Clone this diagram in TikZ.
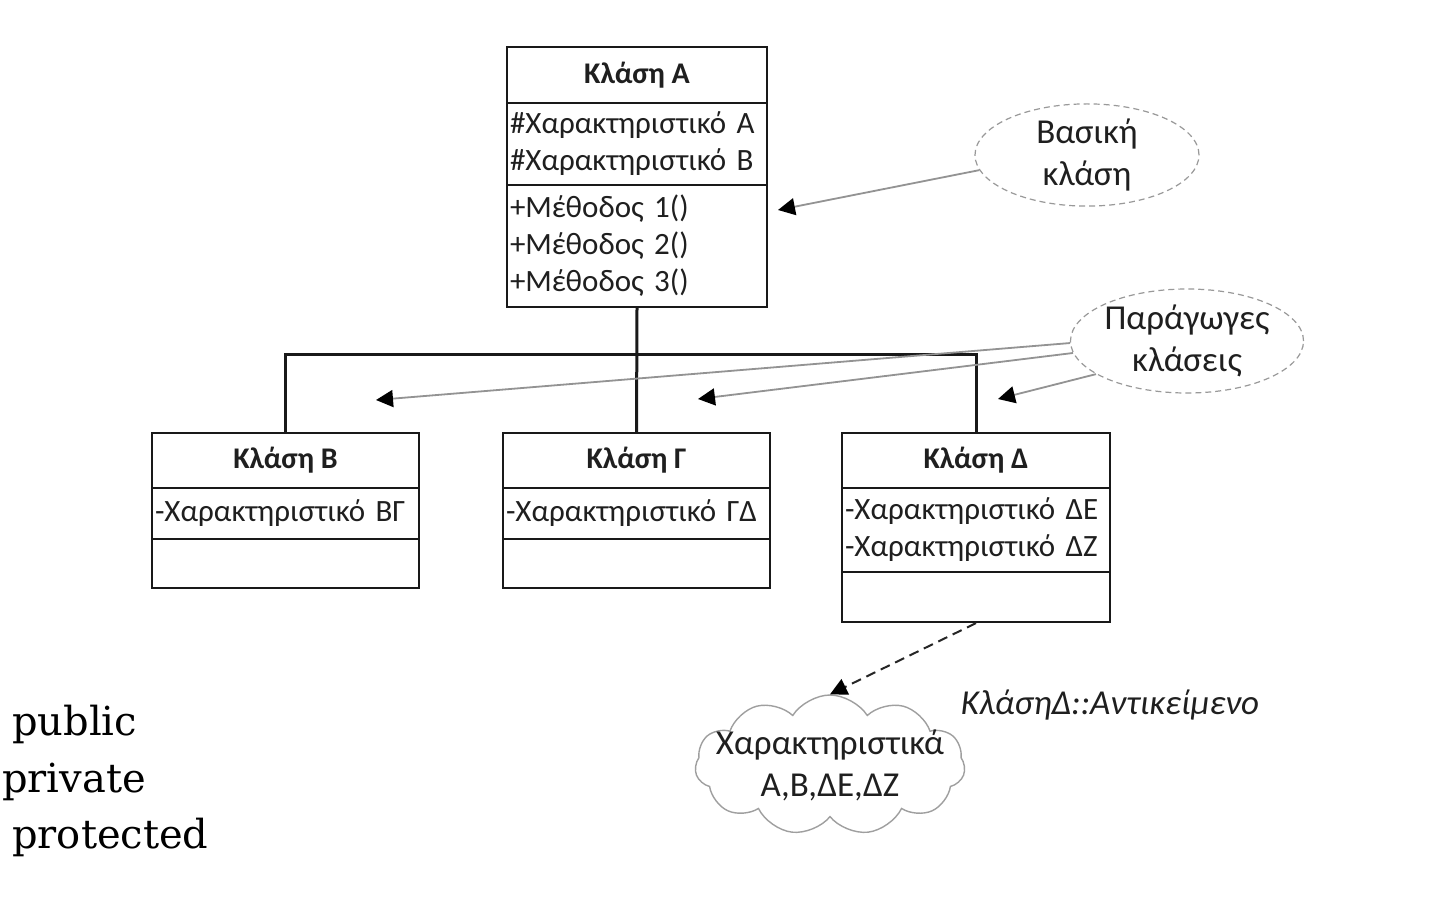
\documentclass[tikz,border=0pt]{standalone}
\usepackage{fontspec}
\setmainfont{Carlito}
\newfontfamily\leftserif{DejaVu Serif}
\usetikzlibrary{arrows.meta,shapes.geometric,shapes.symbols}
\tikzset{
  txt/.style={font=\fontsize{31}{37}\selectfont, text=black!88},
  big/.style={font=\fontsize{35}{42}\selectfont, text=black!88},
  hdr/.style={txt, draw=black!90, line width=2.2pt, inner sep=0pt, font=\bfseries\fontsize{30}{37}\selectfont},
  cmp/.style={txt, draw=black!90, line width=2.2pt, align=left, inner sep=3pt},
  inh/.style={draw=black!90, line width=3pt},
  note/.style={ellipse, draw=gray!80, line width=1.2pt, dash pattern=on 6pt off 4pt, big, align=center, inner sep=0pt},
  tip/.style={-{Triangle[length=17pt,width=17pt,black]}},
  ptr/.style={draw=gray!85, line width=1.8pt, tip},
  legend/.style={anchor=base west, inner sep=0pt, font=\leftserif\fontsize{40}{48}\selectfont},
}
\begin{document}
\begin{tikzpicture}[x=1pt,y=-1pt]
\fill[white] (0,0) rectangle (1456,919);
\useasboundingbox (0,0) rectangle (1456,919);

% Class A
\node[hdr, minimum width=260pt, minimum height=56pt] (Ah) at (637,75) {Κλάση Α};
\node[cmp, minimum width=260pt, text width=254pt, minimum height=82pt] (Aa) at (637,144) {\#Χαρακτηριστικό Α\\\#Χαρακτηριστικό Β};
\node[cmp, minimum width=260pt, text width=254pt, minimum height=122pt] (Am) at (637,246) {+Μέθοδος 1()\\+Μέθοδος 2()\\+Μέθοδος 3()};

% Class B
\node[hdr, minimum width=267pt, minimum height=55pt] (Bh) at (285.5,460.5) {Κλάση Β};
\node[cmp, minimum width=267pt, text width=261pt, minimum height=51pt] (Ba) at (285.5,513.5) {-Χαρακτηριστικό ΒΓ};
\node[cmp, minimum width=267pt, text width=261pt, minimum height=49pt] (Bm) at (285.5,563.5) {};

% Class Gamma
\node[hdr, minimum width=267pt, minimum height=55pt] (Gh) at (636.5,460.5) {Κλάση Γ};
\node[cmp, minimum width=267pt, text width=261pt, minimum height=51pt] (Ga) at (636.5,513.5) {-Χαρακτηριστικό ΓΔ};
\node[cmp, minimum width=267pt, text width=261pt, minimum height=49pt] (Gm) at (636.5,563.5) {};

% Class Delta
\node[hdr, minimum width=268pt, minimum height=55pt] (Dh) at (976,460.5) {Κλάση Δ};
\node[cmp, minimum width=268pt, text width=262pt, minimum height=84pt] (Da) at (976,530) {-Χαρακτηριστικό ΔΕ\\-Χαρακτηριστικό ΔΖ};
\node[cmp, minimum width=268pt, text width=262pt, minimum height=50pt] (Dm) at (976,597) {};

% inheritance lines
\coordinate (bar) at (0,354);
\draw[inh] (Am.south) -- (Gh.north);
\draw[inh] (Bh.north) -- (Bh.north |- bar) -- (Dh.north |- bar) -- (Dh.north);

% notes
\node[note, minimum width=224pt, minimum height=100pt] (base) at (1087,155) {Βασική\\κλάση};
\node[note, minimum width=226pt, minimum height=104pt] (der) at (1187,341) {Παράγωγες\\κλάσεις};

\coordinate (t0) at (778,210);
\coordinate (t1) at (376,400);
\coordinate (t2) at (698,399);
\coordinate (t3) at (998,399);
\draw[ptr] (base.188) -- (t0);
\draw[ptr] (der.181) -- (t1);
\draw[ptr] (der.186) -- (t2);
\draw[ptr] (der.200) -- (t3);

% object cloud
\node[cloud, cloud puffs=11, cloud puff arc=115, draw=gray!75, line width=1.4pt, minimum width=270pt, minimum height=140pt, inner sep=0pt] (obj) at (830,765) {};
\node[big, align=center, inner sep=0pt] (objtxt) at (obj.center) {Χαρακτηριστικά\\Α,Β,ΔΕ,ΔΖ};
\draw[draw=black!85, line width=2pt, dash pattern=on 10pt off 6pt, tip] (Dm.south) -- (obj.north);
\node[big, font=\itshape\fontsize{35}{42}\selectfont] (lbl) at (1110,705) {ΚλάσηΔ::Αντικείμενο};

% legend text
\node[legend] (pub) at (12,735) {public};
\node[legend] (pri) at (2,792) {private};
\node[legend] (pro) at (12,848) {protected};
\end{tikzpicture}
\end{document}
